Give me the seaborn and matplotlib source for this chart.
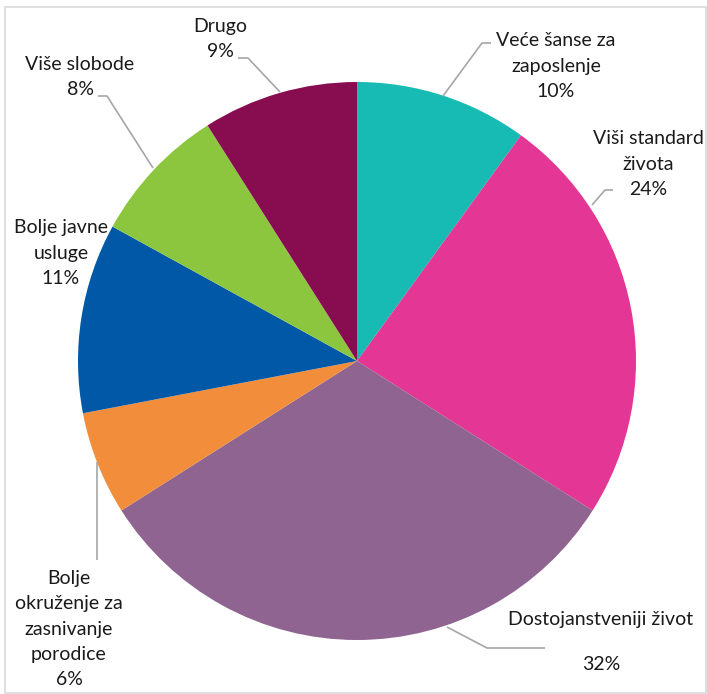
import matplotlib
matplotlib.use('Agg')
import matplotlib.pyplot as plt
import seaborn as sns

# Pie data (clockwise from 12 o'clock)
labels = ['Veće šanse za\nzaposlenje', 'Viši standard\nživota', 'Dostojanstveniji život',
          'Bolje\nokruženje za\nzasnivanje\nporodice', 'Bolje javne\nusluge',
          'Više slobode', 'Drugo']
shares = [10, 24, 32, 6, 11, 8, 9]
colors = ['#17BBB3', '#E43695', '#8F6491', '#F28D3B', '#0058A7', '#8CC63F', '#880D50']

sns.set_theme(style='white')
plt.rcParams['font.family'] = ['Lato', 'DejaVu Sans']

W, H = 707, 694
fig = plt.figure(figsize=(W / 100, H / 100), dpi=100)
ax = fig.add_axes([0, 0, 1, 1])

# pie in pixel-like coordinates (y measured from bottom)
cx, cy, r = 357, 361, 279
wedges, _ = ax.pie(shares, colors=colors, startangle=90, counterclock=False,
                   center=(cx, H - cy), radius=r, frame=False,
                   wedgeprops=dict(linewidth=0))
ax.set_xlim(0, W)
ax.set_ylim(0, H)
ax.set_aspect('equal')
ax.axis('off')

# label text centres and leader lines (pixel coords, y from top)
text_pos = [(556, 66), (648, 164), (601, 619), (69, 629), (61, 253), (80, 77), (220, 39)]
leaders = [
    [(443, 96), (482, 43), (491, 43)],
    [(592, 205), (605, 190), (613, 190)],
    [(447, 627), (487, 648), (545, 648)],
    [(97, 462), (97, 560)],
    None,
    [(153, 168), (107, 96), (98, 96)],
    [(280, 92), (248, 58), (238, 58)],
]

fs = 14
for i, (lab, val) in enumerate(zip(labels, shares)):
    x, y = text_pos[i]
    if i == 2:
        ax.text(x, H - y, lab, ha='center', va='center', fontsize=fs, color='#1a1a1a')
        ax.text(x, H - 665, f'{val}%', ha='center', va='center', fontsize=fs, color='#1a1a1a')
    else:
        ax.text(x, H - y, f'{lab}\n{val}%', ha='center', va='center', fontsize=fs,
                color='#1a1a1a', linespacing=1.6)
    if leaders[i]:
        xs = [p[0] for p in leaders[i]]
        ys = [H - p[1] for p in leaders[i]]
        ax.plot(xs, ys, color='#A6A6A6', lw=1.2, solid_capstyle='butt')

# outer chart frame
frame = plt.Rectangle((5, 1), 701, H - 8, fill=False, edgecolor='#D9D9D9', lw=1.2)
ax.add_patch(frame)

fig.savefig('out.png', dpi=100)
